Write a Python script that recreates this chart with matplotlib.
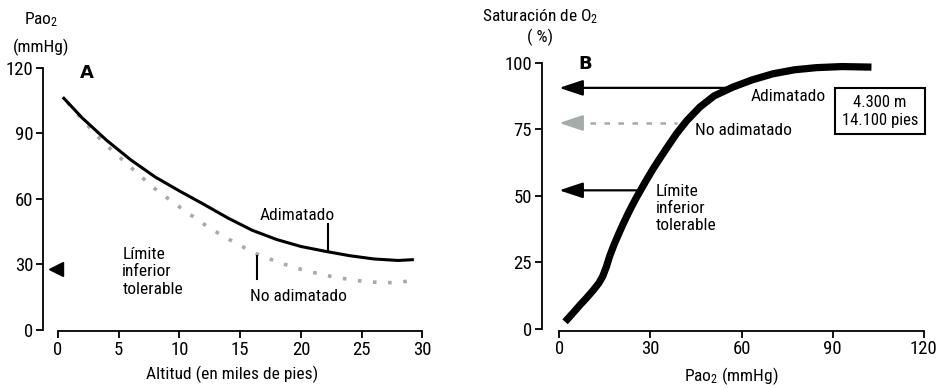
import matplotlib
matplotlib.use("Agg")
import matplotlib.pyplot as plt
from matplotlib import font_manager as fm

# pick the narrowest available sans face
_order = {'ultra-condensed': 1, 'extra-condensed': 2, 'condensed': 3, 'semi-condensed': 4}
_fonts = fm.fontManager.ttflist
_cands = []
for f in _fonts:
    st = str(f.stretch)
    rank = _order.get(st)
    if rank is None and ('Narrow' in f.name or 'Condensed' in f.name):
        rank = 3
    if rank is not None and f.weight in (400, 'normal', 'regular', 'book') and f.style == 'normal':
        _cands.append((rank, 0 if f.name in ('Roboto Condensed', 'Noto Sans', 'Roboto', 'Open Sans') else 1,
                       f.name, st))
_cands.sort()
if _cands:
    FAM, STRETCH = _cands[0][2], _cands[0][3]
else:
    FAM, STRETCH = 'DejaVu Sans', 'normal'

plt.rcParams['font.family'] = [FAM, 'DejaVu Sans']
plt.rcParams['font.stretch'] = STRETCH
plt.rcParams['mathtext.fontset'] = 'custom'
plt.rcParams['mathtext.rm'] = FAM
plt.rcParams['mathtext.it'] = FAM

# ---- Panel A data: altitude (thousand ft) vs PaO2 (mmHg)
alt_acl = [0.4, 2, 4, 6, 8, 10, 12, 14, 16, 18, 20, 22, 24, 26, 28, 29.3]
pao2_acl = [106.5, 97.0, 86.8, 77.8, 70.0, 63.6, 57.5, 51.2, 45.6, 41.4, 38.2, 36.0, 34.0, 32.5, 31.8, 32.2]
alt_noacl = [0.8, 2.2, 3.45, 4.5, 5.6, 6.7, 7.8, 9.0, 10.1, 11.3, 12.55, 14.1, 15.4, 16.6, 18.4, 20.2,
             22.2, 24.3, 25.7, 27.0, 28.0, 28.9]
pao2_noacl = [104.0, 95.0, 87.5, 81.9, 76.4, 70.9, 65.4, 60.4, 55.9, 51.2, 46.4, 41.4, 37.5, 34.2, 30.5,
              27.4, 24.8, 22.8, 22.0, 21.6, 21.8, 22.4]
lim_a = 28

# ---- Panel B data: PaO2 (mmHg) vs O2 saturation (%)
pao2_b = [1.9, 4.5, 6.8, 9.0, 11.2, 13.0, 14.3, 15.5, 16.6, 18.0, 19.5, 21.0, 22.5, 24.0, 25.5, 27.0,
          28.7, 30.9, 33.0, 35.5, 38.6, 42.0, 46.3, 51.0, 57.2, 63.5, 70.4, 77.5, 84.7, 93.0, 102.8]
sat_b = [2.7, 6.0, 9.0, 11.7, 14.6, 17.2, 19.8, 23.4, 27.4, 31.6, 35.6, 39.4, 43.0, 46.4, 49.6, 52.6,
         56.0, 60.2, 63.9, 68.2, 73.4, 78.3, 83.4, 87.6, 90.9, 93.6, 95.9, 97.4, 98.2, 98.6, 98.4]
arrow_acl = (57.0, 90.6)
arrow_noacl = (38.6, 77.4)
arrow_lim = (25.5, 52.1)

FS = 12.5
TS = 13.5
fig = plt.figure(figsize=(9.37, 3.88), dpi=100)

def style(ax, xb, yb):
    for s in ['top', 'right']:
        ax.spines[s].set_visible(False)
    ax.spines['left'].set_bounds(*yb)
    ax.spines['bottom'].set_bounds(*xb)
    ax.spines['left'].set_linewidth(1.3)
    ax.spines['bottom'].set_linewidth(1.3)
    ax.tick_params(direction='out', length=5, width=1.3, labelsize=TS, pad=2)

# ---------------- Panel A
axA = fig.add_axes([43/937, 0.1469, 380/937, 0.6804])
axA.set_xlim(-1.23, 30.05)
axA.set_ylim(-0.46, 120.3)
style(axA, (0, 30), (0, 120))
axA.set_xticks([0, 5, 10, 15, 20, 25, 30])
axA.set_yticks([0, 30, 60, 90, 120])
axA.plot(alt_noacl, pao2_noacl, color='#a3aca9', lw=2.6, linestyle=(0, (1, 3.2)), dash_capstyle='butt')
axA.plot(alt_acl, pao2_acl, color='black', lw=2.2, solid_capstyle='butt', solid_joinstyle='round')
axA.plot([22.27, 22.27], [36.8, 48.7], color='black', lw=1.5)
axA.plot([16.4, 16.4], [23.2, 33.8], color='black', lw=1.5)
axA.plot([-0.15], [lim_a], marker='<', color='black', markersize=10, clip_on=False)
axA.text(2.4, 117.5, 'A', fontsize=13, fontweight='bold', family='DejaVu Sans', stretch='normal',
         ha='center', va='center')
axA.text(19.7, 52.4, 'Adimatado', fontsize=FS, ha='center', va='center')
axA.text(19.8, 15.5, 'No adimatado', fontsize=FS, ha='center', va='center')
axA.text(5.3, 26.6, 'Límite\ninferior\ntolerable', fontsize=FS, ha='left', va='center', linespacing=1.2)
axA.set_xlabel('Altitud (en miles de pies)', fontsize=FS)
axA.xaxis.set_label_coords((232 - 43) / 380, -0.13)
fig.text(41/937, 1 - 20/388, 'Pao$_2$', fontsize=FS, ha='center', va='center')
fig.text(41/937, 1 - 47/388, '(mmHg)', fontsize=FS, ha='center', va='center')

# ---------------- Panel B
axB = fig.add_axes([541.7/937, 0.1477, (924.3 - 541.7)/937, 0.6917])
axB.set_xlim(-5.8, 120.2)
axB.set_ylim(-0.64, 100.2)
style(axB, (0, 120), (0, 100))
axB.set_xticks([0, 30, 60, 90, 120])
axB.set_yticks([0, 25, 50, 75, 100])
axB.plot(pao2_b, sat_b, color='black', lw=5.2, solid_capstyle='butt', solid_joinstyle='round', zorder=3)
ap = dict(arrowstyle='-|>,head_length=0.9,head_width=0.3', lw=1.6, color='black', shrinkA=0, shrinkB=0,
          mutation_scale=16)
axB.annotate('', xy=(0, arrow_acl[1]), xytext=arrow_acl, arrowprops=ap)
axB.annotate('', xy=(0, arrow_lim[1]), xytext=arrow_lim, arrowprops=ap)
axB.plot([5.5, arrow_noacl[0]], [arrow_noacl[1], arrow_noacl[1]], color='#a3aca9', lw=1.8,
         linestyle=(0, (2.2, 3.4)))
apg = dict(ap, color='#a3aca9')
axB.annotate('', xy=(0, arrow_noacl[1]), xytext=(5.5, arrow_noacl[1]), arrowprops=apg)
axB.text(8.4, 99.4, 'B', fontsize=13, fontweight='bold', family='DejaVu Sans', stretch='normal',
         ha='center', va='center')
axB.text(75.5, 87.4, 'Adimatado', fontsize=FS, ha='center', va='center')
axB.text(60.8, 74.4, 'No adimatado', fontsize=FS, ha='center', va='center')
axB.text(31.8, 45.3, 'Límite\ninferior\ntolerable', fontsize=FS, ha='left', va='center', linespacing=1.2)
axB.text(105.6, 81.8, '4.300 m\n14.100 pies', fontsize=FS - 0.5, ha='center', va='center', linespacing=1.25,
         bbox=dict(boxstyle='square,pad=0.4', fc='white', ec='black', lw=1.5))
axB.set_xlabel('Pao$_2$ (mmHg)', fontsize=FS)
axB.xaxis.set_label_coords((731.7 - 541.7) / (924.3 - 541.7), -0.13)
fig.text(540/937, 1 - 17/388, 'Saturación de O$_2$', fontsize=FS, ha='center', va='center')
fig.text(540/937, 1 - 37/388, '( %)', fontsize=FS, ha='center', va='center')

fig.savefig('out.png', dpi=100, facecolor='white')
